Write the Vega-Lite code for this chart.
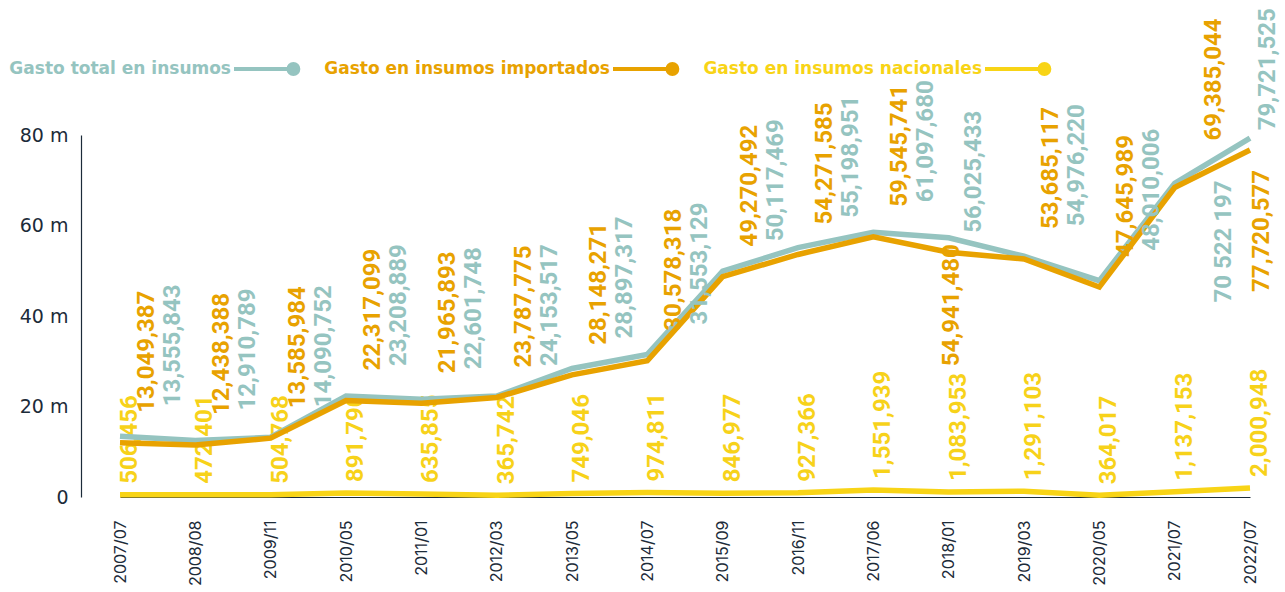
{
  "$schema": "https://vega.github.io/schema/vega-lite/v6.json",
  "width": 1204,
  "height": 362,
  "autosize": "none",
  "padding": {"left": 81, "top": 135, "right": 0, "bottom": 95},
  "background": "white",
  "config": {"view": {"stroke": null}},
  "data": {"values": [
    {"date": "2007/07", "serie": "Gasto total en insumos", "value": 13400000, "label": "13,555,843"},
    {"date": "2008/08", "serie": "Gasto total en insumos", "value": 12500000, "label": "12,910,789"},
    {"date": "2009/11", "serie": "Gasto total en insumos", "value": 13200000, "label": "14,090,752"},
    {"date": "2010/05", "serie": "Gasto total en insumos", "value": 22300000, "label": "23,208,889"},
    {"date": "2011/01", "serie": "Gasto total en insumos", "value": 21600000, "label": "22,601,748"},
    {"date": "2012/03", "serie": "Gasto total en insumos", "value": 22300000, "label": "24,153,517"},
    {"date": "2013/05", "serie": "Gasto total en insumos", "value": 28400000, "label": "28,897,317"},
    {"date": "2014/07", "serie": "Gasto total en insumos", "value": 31500000, "label": "31,553,129"},
    {"date": "2015/09", "serie": "Gasto total en insumos", "value": 49900000, "label": "50,117,469"},
    {"date": "2016/11", "serie": "Gasto total en insumos", "value": 55100000, "label": "55,198,951"},
    {"date": "2017/06", "serie": "Gasto total en insumos", "value": 58500000, "label": "61,097,680"},
    {"date": "2018/01", "serie": "Gasto total en insumos", "value": 57300000, "label": "56,025,433"},
    {"date": "2019/03", "serie": "Gasto total en insumos", "value": 53200000, "label": "54,976,220"},
    {"date": "2020/05", "serie": "Gasto total en insumos", "value": 47800000, "label": "48,010,006"},
    {"date": "2021/07", "serie": "Gasto total en insumos", "value": 69300000, "label": "70 522 197"},
    {"date": "2022/07", "serie": "Gasto total en insumos", "value": 79300000, "label": "79,721,525"},
    {"date": "2007/07", "serie": "Gasto en insumos importados", "value": 12000000, "label": "13,049,387"},
    {"date": "2008/08", "serie": "Gasto en insumos importados", "value": 11500000, "label": "12,438,388"},
    {"date": "2009/11", "serie": "Gasto en insumos importados", "value": 13000000, "label": "13,585,984"},
    {"date": "2010/05", "serie": "Gasto en insumos importados", "value": 21300000, "label": "22,317,099"},
    {"date": "2011/01", "serie": "Gasto en insumos importados", "value": 20700000, "label": "21,965,893"},
    {"date": "2012/03", "serie": "Gasto en insumos importados", "value": 22000000, "label": "23,787,775"},
    {"date": "2013/05", "serie": "Gasto en insumos importados", "value": 27000000, "label": "28,148,271"},
    {"date": "2014/07", "serie": "Gasto en insumos importados", "value": 30100000, "label": "30,578,318"},
    {"date": "2015/09", "serie": "Gasto en insumos importados", "value": 48700000, "label": "49,270,492"},
    {"date": "2016/11", "serie": "Gasto en insumos importados", "value": 53600000, "label": "54,271,585"},
    {"date": "2017/06", "serie": "Gasto en insumos importados", "value": 57500000, "label": "59,545,741"},
    {"date": "2018/01", "serie": "Gasto en insumos importados", "value": 54100000, "label": "54,941,480"},
    {"date": "2019/03", "serie": "Gasto en insumos importados", "value": 52600000, "label": "53,685,117"},
    {"date": "2020/05", "serie": "Gasto en insumos importados", "value": 46400000, "label": "47,645,989"},
    {"date": "2021/07", "serie": "Gasto en insumos importados", "value": 68400000, "label": "69,385,044"},
    {"date": "2022/07", "serie": "Gasto en insumos importados", "value": 76700000, "label": "77,720,577"},
    {"date": "2007/07", "serie": "Gasto en insumos nacionales", "value": 506456, "label": "506,456"},
    {"date": "2008/08", "serie": "Gasto en insumos nacionales", "value": 472401, "label": "472,401"},
    {"date": "2009/11", "serie": "Gasto en insumos nacionales", "value": 504768, "label": "504,768"},
    {"date": "2010/05", "serie": "Gasto en insumos nacionales", "value": 891790, "label": "891,790"},
    {"date": "2011/01", "serie": "Gasto en insumos nacionales", "value": 635855, "label": "635,855"},
    {"date": "2012/03", "serie": "Gasto en insumos nacionales", "value": 365742, "label": "365,742"},
    {"date": "2013/05", "serie": "Gasto en insumos nacionales", "value": 749046, "label": "749,046"},
    {"date": "2014/07", "serie": "Gasto en insumos nacionales", "value": 974811, "label": "974,811"},
    {"date": "2015/09", "serie": "Gasto en insumos nacionales", "value": 846977, "label": "846,977"},
    {"date": "2016/11", "serie": "Gasto en insumos nacionales", "value": 927366, "label": "927,366"},
    {"date": "2017/06", "serie": "Gasto en insumos nacionales", "value": 1551939, "label": "1,551,939"},
    {"date": "2018/01", "serie": "Gasto en insumos nacionales", "value": 1083953, "label": "1,083,953"},
    {"date": "2019/03", "serie": "Gasto en insumos nacionales", "value": 1291103, "label": "1,291,103"},
    {"date": "2020/05", "serie": "Gasto en insumos nacionales", "value": 364017, "label": "364,017"},
    {"date": "2021/07", "serie": "Gasto en insumos nacionales", "value": 1137153, "label": "1,137,153"},
    {"date": "2022/07", "serie": "Gasto en insumos nacionales", "value": 2000948, "label": "2,000,948"}
  ]},
  "encoding": {
    "x": {
      "field": "date", "type": "ordinal", "sort": null,
      "scale": {"type": "point", "range": [39, 1169], "padding": 0},
      "axis": {
        "title": null, "labelAngle": -90, "labelAlign": "right", "labelBaseline": "middle",
        "labelPadding": 23, "labelFont": "Inter", "labelFontSize": 16, "labelColor": "#1c2b39",
        "ticks": false, "grid": false, "domain": true, "domainColor": "#1c2b39", "domainWidth": 1
      }
    },
    "y": {
      "field": "value", "type": "quantitative",
      "scale": {"domain": [0, 80000000], "nice": false},
      "axis": {
        "title": null, "values": [0, 20000000, 40000000, 60000000, 80000000],
        "labelExpr": "datum.value == 0 ? '0' : (datum.value / 1000000) + ' m'",
        "labelPadding": 13, "labelFont": "DejaVu Sans", "labelFontSize": 19, "labelColor": "#1c2b39",
        "ticks": false, "grid": false, "domain": true, "domainColor": "#1c2b39", "domainWidth": 1.2
      }
    }
  },
  "layer": [
    {
      "transform": [{"filter": "datum.serie == 'Gasto en insumos nacionales'"}],
      "mark": {"type": "text", "angle": 270, "align": "left", "baseline": "middle", "dx": 11, "dy": 10,
               "font": "Roboto", "fontWeight": "bold", "fontSize": 24, "color": "#f7d21a"},
      "encoding": {"text": {"field": "label"}}
    },
    {
      "mark": {"type": "line", "strokeWidth": 5.5, "strokeJoin": "miter"},
      "encoding": {
        "color": {
          "field": "serie", "type": "nominal",
          "scale": {
            "domain": ["Gasto total en insumos", "Gasto en insumos importados", "Gasto en insumos nacionales"],
            "range": ["#95c4c0", "#e8a200", "#f8d416"]
          },
          "legend": {
            "title": null, "orient": "none", "legendX": 151, "legendY": -101, "direction": "horizontal",
            "symbolType": "M-1,0H0.8M0.65,0a0.15,0.15 0 1,0 0.3,0a0.15,0.15 0 1,0 -0.3,0",
            "symbolSize": 4356, "symbolStrokeWidth": 4,
            "labelAlign": "right", "labelOffset": -71, "labelFont": "DejaVu Sans", "labelFontWeight": "bold",
            "labelFontSize": 17, "labelLimit": 400, "columnPadding": 17,
            "encode": {
              "labels": {"update": {"fill": {"scale": "color", "field": "value"}}},
              "symbols": {"update": {"fill": {"scale": "color", "field": "value"}, "opacity": {"value": 1}}}
            }
          }
        }
      }
    },
    {
      "transform": [{"filter": "datum.serie == 'Gasto en insumos importados'"}],
      "mark": {"type": "text", "angle": 270, "baseline": "middle",
               "align": {"expr": "datum.date == '2022/07' ? 'right' : 'left'"},
               "dx": {"expr": "datum.date == '2022/07' ? -20 : datum.date == '2018/01' ? -114 : datum.date == '2021/07' ? 47 : 30"},
               "dy": {"expr": "datum.date == '2022/07' ? 12 : datum.date == '2018/01' ? 3 : datum.date == '2021/07' ? 39 : 27"},
               "font": "Roboto", "fontWeight": "bold", "fontSize": 24, "color": "#e8a200"},
      "encoding": {"text": {"field": "label"}}
    },
    {
      "transform": [{"filter": "datum.serie == 'Gasto total en insumos'"}],
      "mark": {"type": "text", "angle": 270, "baseline": "middle",
               "align": {"expr": "datum.date == '2021/07' ? 'right' : 'left'"},
               "dx": {"expr": "datum.date == '2022/07' ? 8 : datum.date == '2021/07' ? 3 : datum.date == '2018/01' ? 5 : 30"},
               "dy": {"expr": "datum.date == '2022/07' ? 18 : datum.date == '2021/07' ? 49 : datum.date == '2018/01' ? 25 : 53"},
               "font": "Roboto", "fontWeight": "bold", "fontSize": 24, "color": "#95c4c0"},
      "encoding": {"text": {"field": "label"}}
    }
  ]
}
